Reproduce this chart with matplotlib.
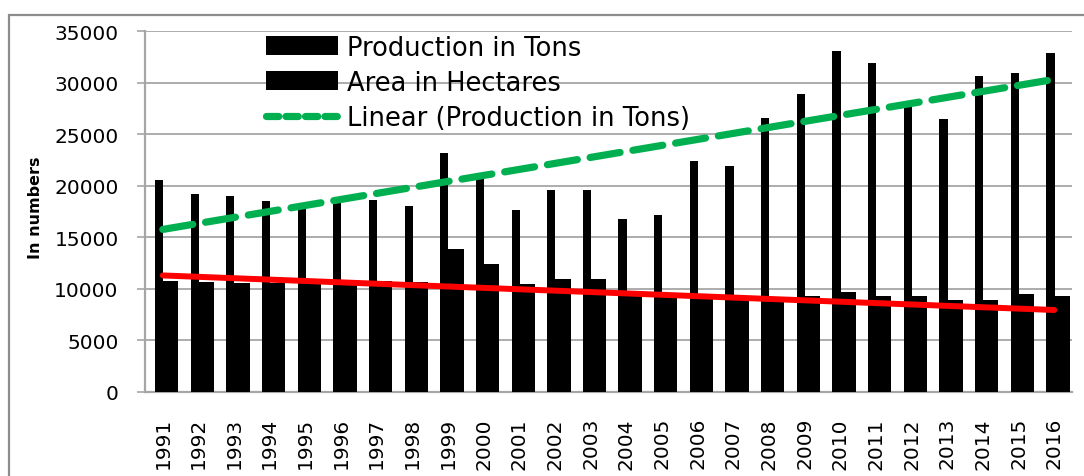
import numpy as np
import matplotlib
matplotlib.use("Agg")
import matplotlib.pyplot as plt
from matplotlib.patches import Rectangle
from matplotlib.lines import Line2D

years = [str(y) for y in range(1991, 2017)]
production_tons = [20600, 19200, 19000, 18500, 18000, 18400, 18600, 18000, 23200, 21000,
                   17650, 19600, 19600, 16800, 17200, 22400, 21900, 26600, 28900, 33100,
                   31900, 27900, 26500, 30600, 30900, 32900]
area_hectares = [10800, 10700, 10600, 10600, 10500, 10900, 10800, 10700, 13900, 12400,
                 10500, 11000, 11000, 9600, 9400, 9200, 9100, 9200, 9300, 9700,
                 9300, 9300, 8900, 8900, 9500, 9300]
red_line_ends = [11300, 7950]
yticks = [0, 5000, 10000, 15000, 20000, 25000, 30000, 35000]

plt.rcParams['font.family'] = ['DejaVu Sans']

fig = plt.figure(figsize=(10.84, 4.77), dpi=100)
ax = fig.add_axes([145/1084, 1-393/477, 927/1084, 361/477])

x = np.arange(len(years))
grid_c = '#a6a6a6'

ax.bar(x - 0.22, production_tons, width=0.23, align='edge', color='black',
       linewidth=0, zorder=3, label='Production in Tons')
ax.bar(x + 0.005, area_hectares, width=0.43, align='edge', color='black',
       linewidth=0, zorder=3, label='Area in Hectares')

coef = np.polyfit(x, production_tons, 1)
ax.plot([x[0], x[-1]], np.polyval(coef, [x[0], x[-1]]), color='#00b050', lw=5.2,
        dashes=(4.2, 1.8), dash_capstyle='round', solid_capstyle='round', zorder=5)
ax.plot([x[0], x[-1]], red_line_ends, color='#ff0000', lw=4.3,
        solid_capstyle='round', zorder=5)

ax.set_xlim(-0.5, len(years) - 0.5)
ax.set_ylim(0, 35000)
ax.set_yticks(yticks)
ax.set_yticklabels([str(v) for v in yticks], fontsize=14.5)
ax.set_xticks(x)
ax.set_xticklabels(years, rotation=90, fontsize=14.5)
ax.tick_params(axis='y', length=6, width=1.2, color=grid_c, pad=13)
ax.tick_params(axis='x', length=0, pad=18)
ax.yaxis.grid(True, color=grid_c, lw=1.3, zorder=0)
ax.set_axisbelow(True)
for s in ['top', 'right']:
    ax.spines[s].set_visible(False)
for s in ['left', 'bottom']:
    ax.spines[s].set_color(grid_c)
    ax.spines[s].set_linewidth(1.6)

ax.set_ylabel('In numbers', fontsize=11.5, fontweight='bold')
ax.yaxis.set_label_coords(-0.11, 0.512)

handles = [Rectangle((0, 0), 1, 1, color='black', linewidth=0),
           Rectangle((0, 0), 1, 1, color='black', linewidth=0),
           Line2D([0], [0], color='#00b050', lw=5.2, dashes=(1.7, 1.0), dash_capstyle='round')]
labels = ['Production in Tons', 'Area in Hectares', 'Linear (Production in Tons)']
leg = ax.legend(handles, labels, loc='upper left', bbox_to_anchor=(0.1305, 0.99),
                frameon=False, fontsize=18.5, handlelength=2.8, handleheight=0.75,
                handletextpad=0.36, labelspacing=0.36, borderaxespad=0, borderpad=0)

fig.patches.append(Rectangle((9/1084, -0.1), 1.2, 1.1 - 16/477, transform=fig.transFigure,
                             fill=False, edgecolor='#8c8c8c', lw=1.6))

fig.savefig('out.png', dpi=100)
